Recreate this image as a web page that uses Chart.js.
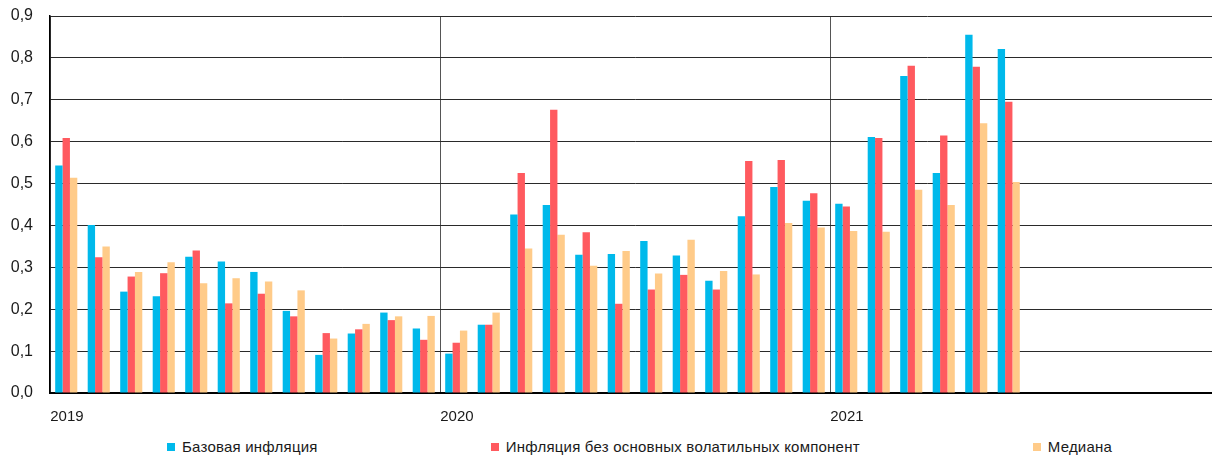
<!DOCTYPE html>
<html lang="ru">
<head>
<meta charset="utf-8">
<script src="https://cdn.jsdelivr.net/npm/chart.js@4/dist/chart.umd.min.js"></script>
<style>
  html, body { margin: 0; padding: 0; background: #fff; overflow: hidden; }
  #wrap { position: relative; width: 1220px; height: 459px; }
  #chartBox { position: absolute; left: 0; top: 0; width: 1220px; height: 430px; }
  #legend {
    position: absolute; left: 167px; top: 437px;
    display: flex; gap: 173px;
    font: 15px 'Liberation Sans', Arial, sans-serif; color: #1a1a1a; line-height: 20px;
    letter-spacing: 0.22px;
  }
  #legend span.item { display: flex; align-items: center; white-space: nowrap; }
  #legend span.box { width: 8px; height: 8px; margin-right: 7px; display: inline-block; }
</style>
</head>
<body>
<div id="wrap">
  <div id="chartBox"><canvas id="inflChart"></canvas></div>
  <div id="legend"></div>
</div>
<script>
  // Годы и месяцы по оси X
  const years = ['2019', '2020', '2021'];
  const months = ['01', '02', '03', '04', '05', '06', '07', '08', '09', '10', '11', '12'];

  // Значения, % м/м (с.к.)
  const bazovaya = [
    0.543, 0.401, 0.242, 0.231, 0.325, 0.314, 0.289, 0.196, 0.091, 0.142, 0.192, 0.154,
    0.094, 0.163, 0.426, 0.449, 0.330, 0.332, 0.363, 0.328, 0.268, 0.422, 0.492, 0.459,
    0.452, 0.611, 0.757, 0.525, 0.855, 0.821, null, null, null, null, null, null
  ];
  const bezVolatilnyh = [
    0.609, 0.324, 0.278, 0.286, 0.340, 0.214, 0.237, 0.183, 0.143, 0.152, 0.174, 0.127,
    0.120, 0.163, 0.525, 0.676, 0.384, 0.213, 0.247, 0.282, 0.247, 0.554, 0.556, 0.477,
    0.445, 0.609, 0.781, 0.615, 0.779, 0.695, null, null, null, null, null, null
  ];
  const mediana = [
    0.514, 0.350, 0.289, 0.312, 0.262, 0.274, 0.266, 0.245, 0.130, 0.165, 0.183, 0.184,
    0.149, 0.192, 0.345, 0.378, 0.304, 0.339, 0.285, 0.366, 0.291, 0.283, 0.406, 0.395,
    0.387, 0.385, 0.485, 0.449, 0.644, 0.504, null, null, null, null, null, null
  ];

  const seriesNames = ['Базовая инфляция', 'Инфляция без основных волатильных компонент', 'Медиана'];
  const seriesColors = ['#00B9EB', '#FF5A5F', '#FFCB89'];

  const labels = years.flatMap(y => months.map(m => y + '-' + m));
  const fontFamily = "'Liberation Sans', Arial, sans-serif";

  function fmt(v) {
    return v.toFixed(1).replace('.', ',');
  }

  const ctx = document.getElementById('inflChart').getContext('2d');
  const chart = new Chart(ctx, {
    type: 'bar',
    data: {
      labels: labels,
      datasets: [bazovaya, bezVolatilnyh, mediana].map((d, i) => ({
        label: seriesNames[i],
        data: d,
        backgroundColor: seriesColors[i],
        borderWidth: 0,
        categoryPercentage: 0.68,
        barPercentage: 1.0
      }))
    },
    options: {
      responsive: true,
      maintainAspectRatio: false,
      animation: false,
      layout: { padding: { top: 16, right: 0, bottom: 0, left: 0 } },
      plugins: {
        legend: { display: false },
        tooltip: { enabled: false }
      },
      scales: {
        x: {
          grid: {
            offset: true,
            drawTicks: false,
            lineWidth: 1,
            color: c => (c.index % 12 === 0 ? '#555' : 'rgba(0,0,0,0)')
          },
          border: { color: '#000', width: 2 },
          ticks: {
            autoSkip: false,
            maxRotation: 0,
            padding: 15,
            align: 'start',
            labelOffset: -16,
            color: '#1a1a1a',
            font: { family: fontFamily, size: 15 },
            callback: function(value, index) {
              const lbl = this.getLabelForValue(value);
              return lbl.endsWith('-01') ? lbl.slice(0, 4) : '';
            }
          },
          afterFit: scale => { scale.height = 37; }
        },
        y: {
          min: 0,
          max: 0.9,
          grid: { color: '#2a2a2a', lineWidth: 1, drawTicks: false },
          border: { color: '#000', width: 1.5 },
          ticks: {
            stepSize: 0.1,
            padding: 17,
            color: '#1a1a1a',
            font: { family: fontFamily, size: 16 },
            callback: v => fmt(v)
          },
          afterFit: scale => {
            scale.width = 50;
            // верх области графика задаётся через layout.padding
            scale.paddingTop = 0;
            scale.paddingBottom = 0;
          }
        }
      }
    }
  });

  // Легенда под графиком
  const legendEl = document.getElementById('legend');
  chart.data.datasets.forEach(ds => {
    const item = document.createElement('span');
    item.className = 'item';
    const box = document.createElement('span');
    box.className = 'box';
    box.style.background = ds.backgroundColor;
    item.appendChild(box);
    item.appendChild(document.createTextNode(ds.label));
    legendEl.appendChild(item);
  });
</script>
</body>
</html>
